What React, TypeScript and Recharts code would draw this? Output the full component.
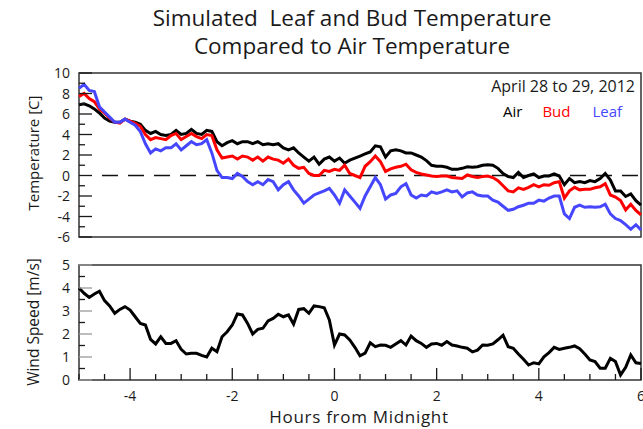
import React from 'react';
import { LineChart, Line, XAxis, YAxis, ReferenceLine, ReferenceArea } from 'recharts';

// hours from midnight, one reading every 6 minutes
const hours = [
  -5.0, -4.9, -4.8, -4.7, -4.6, -4.5, -4.4, -4.3, -4.2, -4.1,
  -4.0, -3.9, -3.8, -3.7, -3.6, -3.5, -3.4, -3.3, -3.2, -3.1,
  -3.0, -2.9, -2.8, -2.7, -2.6, -2.5, -2.4, -2.3, -2.2, -2.1,
  -2.0, -1.9, -1.8, -1.7, -1.6, -1.5, -1.4, -1.3, -1.2, -1.1,
  -1.0, -0.9, -0.8, -0.7, -0.6, -0.5, -0.4, -0.3, -0.2, -0.1,
  0.0, 0.1, 0.2, 0.3, 0.4, 0.5, 0.6, 0.7, 0.8, 0.9,
  1.0, 1.1, 1.2, 1.3, 1.4, 1.5, 1.6, 1.7, 1.8, 1.9,
  2.0, 2.1, 2.2, 2.3, 2.4, 2.5, 2.6, 2.7, 2.8, 2.9,
  3.0, 3.1, 3.2, 3.3, 3.4, 3.5, 3.6, 3.7, 3.8, 3.9,
  4.0, 4.1, 4.2, 4.3, 4.4, 4.5, 4.6, 4.7, 4.8, 4.9,
  5.0, 5.1, 5.2, 5.3, 5.4, 5.5, 5.6, 5.7, 5.8, 5.9,
  6.0,
];

const airTemp = [
  6.9, 7.0, 6.8, 6.5, 6.1, 5.6, 5.3, 5.2, 5.2, 5.5,
  5.3, 5.2, 5.0, 4.4, 4.1, 4.3, 4.0, 3.9, 4.0, 4.4,
  4.0, 4.1, 4.5, 4.1, 4.0, 4.4, 4.3, 3.3, 2.9, 3.2,
  3.4, 3.1, 3.3, 3.3, 3.1, 3.3, 3.0, 3.1, 3.0, 3.1,
  2.7, 2.5, 2.7, 2.2, 1.8, 1.4, 1.8, 1.1, 1.6, 1.8,
  1.4, 1.7, 1.2, 1.5, 1.7, 1.9, 2.1, 2.3, 2.9, 2.8,
  1.8, 2.4, 2.5, 2.4, 2.2, 2.2, 2.0, 1.8, 1.45, 1.0,
  0.9, 0.9, 0.8, 0.6, 0.6, 0.7, 0.85, 0.8, 0.85, 1.0,
  1.05, 1.0, 0.7, 0.2, -0.1, -0.2, 0.3, -0.2, 0.0, 0.15,
  -0.2, -0.05, -0.05, 0.15, -0.05, -0.9, -0.3, -0.7, -0.6, -0.7,
  -0.5, -0.6, -0.3, 0.2, -0.45, -1.5, -1.5, -2.05, -1.8, -2.45,
  -2.9,
];

const budTemp = [
  7.7, 8.0, 7.5, 7.2, 6.5, 6.1, 5.6, 5.2, 5.1, 5.5,
  5.3, 5.1, 4.8, 4.0, 3.5, 3.7, 3.6, 3.5, 3.9, 4.1,
  3.5, 3.8, 4.1, 3.8, 3.6, 4.0, 3.9, 2.5, 1.7, 1.8,
  1.9, 1.6, 1.9, 1.8, 1.5, 1.8, 1.4, 1.8, 1.6, 1.5,
  1.2, 1.6, 1.0, 0.7, 0.8, 0.2, 0.0, 0.0, 0.5, 0.4,
  0.6, 0.5, 1.0, 0.2, 0.0, -0.2, 0.9, 1.35, 1.9, 1.35,
  0.4, 0.65, 0.8, 0.9, 1.1, 0.55, 0.3, 0.15, 0.05, -0.05,
  -0.1, -0.05, -0.05, -0.2, -0.25, -0.3, 0.05, -0.1, -0.2, -0.1,
  -0.05, -0.2, -0.5, -1.0, -1.5, -1.6, -1.2, -1.35, -1.15, -0.9,
  -1.1, -0.9, -0.95, -0.7, -0.6, -2.2, -1.5, -1.15, -1.4, -1.35,
  -1.35, -1.2, -1.1, -0.8, -1.9, -2.1, -2.45, -3.35, -2.8, -3.4,
  -3.85,
];

const leafTemp = [
  8.5, 8.9, 8.3, 8.2, 6.7, 6.2, 5.7, 5.2, 5.2, 5.5,
  5.2, 4.9, 4.3, 3.1, 2.2, 2.6, 2.4, 2.7, 2.7, 3.1,
  2.5, 2.9, 3.3, 3.0, 3.1, 3.5, 2.2, 0.5, -0.2, -0.2,
  -0.3, 0.2, -0.1, -0.6, -0.9, -0.6, -0.9, -0.4, -0.6, -1.4,
  -0.9, -0.6, -1.4, -2.0, -2.7, -2.3, -1.9, -1.7, -1.5, -1.25,
  -1.9, -2.7, -1.4, -2.0, -2.6, -3.2, -2.0, -1.1, -0.2, -0.9,
  -2.3, -1.9, -1.75, -1.1, -0.8, -1.9, -2.2, -1.9, -2.0, -1.6,
  -1.75, -1.6, -1.4, -1.6, -1.5, -2.1, -1.7, -1.6, -1.9, -2.0,
  -2.0, -2.4, -2.6, -3.0, -3.4, -3.3, -3.05, -2.9, -2.7, -2.7,
  -2.4, -2.5, -2.2, -2.0, -2.0, -3.75, -4.2, -3.1, -2.9, -3.1,
  -3.05, -3.1, -3.05, -2.8, -3.75, -4.2, -4.4, -4.8, -5.25, -4.8,
  -5.3,
];

const windSpeed = [
  4.0, 3.77, 3.59, 3.74, 3.86, 3.45, 3.22, 2.9, 3.07, 3.19,
  3.04, 2.75, 2.46, 2.39, 1.77, 1.57, 1.88, 1.59, 1.59, 1.71,
  1.33, 1.13, 1.16, 1.16, 1.07, 1.0, 1.38, 1.23, 1.88, 2.1,
  2.39, 2.87, 2.83, 2.46, 2.0, 2.2, 2.25, 2.57, 2.68, 2.86,
  2.75, 2.83, 2.43, 3.07, 3.1, 2.9, 3.22, 3.19, 3.14, 2.61,
  1.52, 2.0, 1.96, 1.74, 1.42, 1.05, 1.17, 1.62, 1.45, 1.52,
  1.51, 1.42, 1.57, 1.71, 1.52, 1.91, 1.71, 1.59, 1.42, 1.57,
  1.59, 1.51, 1.67, 1.52, 1.48, 1.42, 1.38, 1.22, 1.3, 1.52,
  1.51, 1.57, 1.75, 1.95, 1.45, 1.38, 1.13, 0.9, 0.65, 0.75,
  0.7, 1.01, 1.19, 1.42, 1.33, 1.38, 1.42, 1.48, 1.36, 1.13,
  0.87, 0.8, 0.51, 0.51, 0.94, 0.8, 0.22, 0.55, 1.09, 0.75,
  0.72,
];

const hourTicks = [-5, -4.5, -4, -3.5, -3, -2.5, -2, -1.5, -1, -0.5, 0, 0.5, 1, 1.5, 2, 2.5, 3, 3.5, 4, 4.5, 5, 5.5, 6];
const hourLabels = [-4, -2, 0, 2, 4, 6];
const tempTicks = [-6, -5, -4, -3, -2, -1, 0, 1, 2, 3, 4, 5, 6, 7, 8, 9, 10];
const tempLabels = [-6, -4, -2, 0, 2, 4, 6, 8, 10];
const windTicks = [0, 0.5, 1, 1.5, 2, 2.5, 3, 3.5, 4, 4.5, 5];
const windLabels = [0, 1, 2, 3, 4, 5];

const tempData = hours.map((h, i) => ({ h, air: airTemp[i], bud: budTemp[i], leaf: leafTemp[i] }));
const windData = hours.map((h, i) => ({ h, wind: windSpeed[i] }));

const FONT = '"Open Sans", sans-serif';
const INK = '#1a1a1a';

const hourTick = (showLabels: boolean) => (props: any) => {
  const { x, y, payload } = props;
  const v = payload.value;
  const major = v % 2 === 0;
  return (
    <g>
      <line x1={x} x2={x} y1={y} y2={y - (major ? 12 : 6)} stroke={INK} strokeWidth={1.3} />
      {showLabels && hourLabels.includes(v) && (
        <text x={x} y={y + 21} textAnchor="middle" fontSize={14} fontFamily={FONT} fill={INK}>
          {v}
        </text>
      )}
    </g>
  );
};

const valueTick = (labels: number[], longColor: string) => (props: any) => {
  const { x, y, payload } = props;
  const v = payload.value;
  const labelled = labels.includes(v);
  return (
    <g>
      <line
        x1={x}
        x2={x + (labelled ? 13 : 6)}
        y1={y}
        y2={y}
        stroke={labelled ? longColor : INK}
        strokeWidth={1.3}
      />
      {labelled && (
        <text x={x - 9} y={y + 5} textAnchor="end" fontSize={14} fontFamily={FONT} fill={INK}>
          {v}
        </text>
      )}
    </g>
  );
};

const App: React.FC = () => {
  return (
    <div
      style={{
        position: 'absolute',
        left: 0,
        top: 0,
        width: 643,
        height: 429,
        background: '#fff',
        fontFamily: FONT,
        color: INK,
        overflow: 'hidden',
      }}
    >
      {/* Temperature panel */}
      <div style={{ position: 'absolute', left: 0, top: 0 }}>
        <LineChart width={643} height={250} data={tempData} margin={{ top: 73, right: 2, bottom: 13, left: 0 }}>
          <XAxis
            dataKey="h"
            type="number"
            domain={[-5, 6]}
            ticks={hourTicks}
            interval={0}
            height={0}
            axisLine={false}
            tickLine={false}
            tickSize={0}
            tickMargin={0}
            tick={hourTick(false)}
          />
          <YAxis
            type="number"
            domain={[-6, 10]}
            ticks={tempTicks}
            interval={0}
            width={79}
            axisLine={false}
            tickLine={false}
            tickSize={0}
            tickMargin={0}
            tick={valueTick(tempLabels, INK)}
          />
          <ReferenceArea x1={-5} x2={6} y1={-6} y2={10} fill="none" stroke="#333" strokeWidth={1.5} />
          <ReferenceLine
            segment={[{ x: -4.55, y: 0 }, { x: 6, y: 0 }]}
            stroke="#111"
            strokeWidth={1.6}
            strokeDasharray="16 10"
          />
          <Line type="linear" dataKey="air" stroke="#000000" strokeWidth={3} dot={false} isAnimationActive={false} />
          <Line type="linear" dataKey="bud" stroke="#ff0000" strokeWidth={3} dot={false} isAnimationActive={false} />
          <Line type="linear" dataKey="leaf" stroke="#4646ff" strokeWidth={3} dot={false} isAnimationActive={false} />
        </LineChart>
      </div>

      {/* Wind panel */}
      <div style={{ position: 'absolute', left: 0, top: 240 }}>
        <LineChart width={643} height={189} data={windData} margin={{ top: 25, right: 2, bottom: 0, left: 0 }}>
          <XAxis
            dataKey="h"
            type="number"
            domain={[-5, 6]}
            ticks={hourTicks}
            interval={0}
            height={49}
            axisLine={false}
            tickLine={false}
            tickSize={0}
            tickMargin={0}
            tick={hourTick(true)}
          />
          <YAxis
            type="number"
            domain={[0, 5]}
            ticks={windTicks}
            interval={0}
            width={79}
            axisLine={false}
            tickLine={false}
            tickSize={0}
            tickMargin={0}
            tick={valueTick(windLabels, '#999')}
          />
          <ReferenceArea x1={-5} x2={6} y1={0} y2={5} fill="none" stroke="#333" strokeWidth={1.5} />
          <Line type="linear" dataKey="wind" stroke="#000000" strokeWidth={3} dot={false} isAnimationActive={false} />
        </LineChart>
      </div>

      {/* Title */}
      <div
        style={{
          position: 'absolute',
          left: 52,
          top: 4,
          width: 600,
          textAlign: 'center',
          fontSize: 22.5,
          lineHeight: '28px',
        }}
      >
        <div style={{ whiteSpace: 'pre' }}>Simulated  Leaf and Bud Temperature</div>
        <div>Compared to Air Temperature</div>
      </div>

      {/* Date and legend */}
      <div style={{ position: 'absolute', right: 8, top: 75, fontSize: 16, lineHeight: '22px', whiteSpace: 'nowrap' }}>
        April 28 to 29, 2012
      </div>
      <div style={{ position: 'absolute', left: 503, top: 101, fontSize: 15, whiteSpace: 'nowrap' }}>
        <span style={{ color: '#000' }}>Air</span>
        <span style={{ color: '#ff0000', marginLeft: 20 }}>Bud</span>
        <span style={{ color: '#4646ff', marginLeft: 22 }}>Leaf</span>
      </div>

      {/* Axis titles */}
      <div
        style={{
          position: 'absolute',
          left: 33,
          top: 153,
          fontSize: 15,
          whiteSpace: 'nowrap',
          transform: 'translate(-50%, -50%) rotate(-90deg)',
        }}
      >
        Temperature [C]
      </div>
      <div
        style={{
          position: 'absolute',
          left: 33,
          top: 322,
          fontSize: 15.5,
          whiteSpace: 'nowrap',
          transform: 'translate(-50%, -50%) rotate(-90deg)',
        }}
      >
        Wind Speed [m/s]
      </div>
      <div
        style={{
          position: 'absolute',
          left: 259,
          top: 405,
          width: 200,
          textAlign: 'center',
          fontSize: 17,
          letterSpacing: 0.7,
          lineHeight: '24px',
          whiteSpace: 'nowrap',
        }}
      >
        Hours from Midnight
      </div>
    </div>
  );
};

export default App;
